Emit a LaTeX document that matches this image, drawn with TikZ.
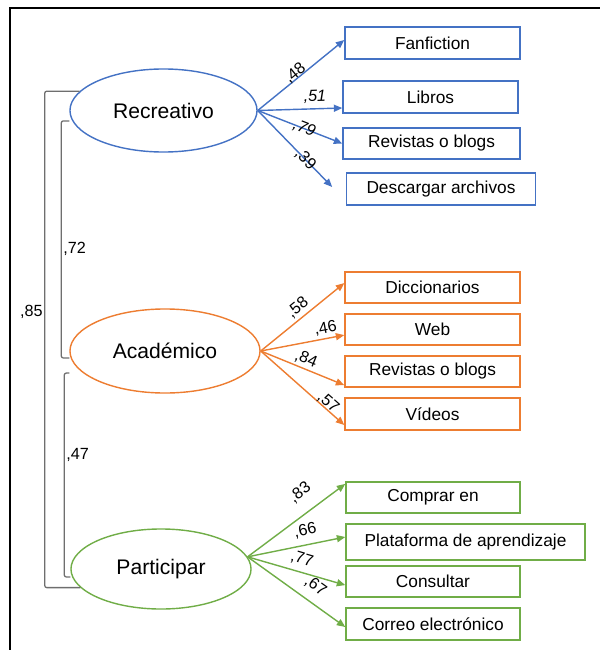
\documentclass[tikz,border=0pt]{standalone}
\usepackage{fontspec}
\setmainfont{Liberation Sans}
\usepackage{tikz}
\usetikzlibrary{arrows.meta,shapes.geometric}
\definecolor{factblue}{HTML}{4472C4}
\definecolor{factorange}{HTML}{ED7D31}
\definecolor{factgreen}{HTML}{70AD47}
\definecolor{bracegray}{HTML}{6E6E6E}

\tikzset{
  factor/.style={ellipse, draw, line width=1pt, inner sep=0pt, font=\fontsize{15}{18}\selectfont},
  item/.style={rectangle, draw, line width=1pt, inner sep=0pt, minimum height=0.8cm, font=\fontsize{12.3}{14}\selectfont},
  load/.style={->, line width=1pt},
  coef/.style={font=\fontsize{11.5}{13}\selectfont, inner sep=1pt, text=black},
  brace/.style={draw=bracegray, line width=0.9pt, rounded corners=1.5pt}
}

\begin{document}
\begin{tikzpicture}[x=0.025cm, y=-0.025cm, >={Triangle[length=6pt, width=5pt]}]
  \useasboundingbox (0,0) rectangle (600,650);
  % Frame
  \draw[line width=0.8pt] (10,650) -- (10,8) -- (600,8);

  % Factor Nodes
  \node[factor, draw=factblue, minimum width=4.675cm, minimum height=2.075cm] (rec) at (163.5,110.5) {Recreativo};
  \node[factor, draw=factorange, minimum width=4.75cm, minimum height=2.1cm] (aca) at (165,351) {Académico};
  \node[factor, draw=factgreen, minimum width=4.5cm, minimum height=2cm] (par) at (161,569) {Participar};

  % Item Nodes (Recreativo)
  \node[item, draw=factblue, minimum width=4.375cm] (fanf) at (432.5,43) {Fanfiction};
  \node[item, draw=factblue, minimum width=4.375cm] (libr) at (430.5,97) {Libros};
  \node[item, draw=factblue, minimum width=4.425cm, minimum height=0.775cm] (revr) at (431.5,143.5) {Revistas o blogs};
  \node[item, draw=factblue, minimum width=4.725cm] (desc) at (441,189) {Descargar archivos};

  % Item Nodes (Academico)
  \node[item, draw=factorange, minimum width=4.375cm, minimum height=0.775cm] (dicc) at (432.5,287.5) {Diccionarios};
  \node[item, draw=factorange, minimum width=4.375cm, minimum height=0.775cm] (web) at (432.5,329.5) {Web};
  \node[item, draw=factorange, minimum width=4.375cm, minimum height=0.775cm] (reva) at (432.5,371.5) {Revistas o blogs};
  \node[item, draw=factorange, minimum width=4.375cm] (vide) at (432.5,414) {Vídeos};

  % Item Nodes (Participar)
  \node[item, draw=factgreen, minimum width=4.35cm, minimum height=0.775cm] (comp) at (433,497.5) {Comprar en};
  \node[item, draw=factgreen, minimum width=5.975cm, minimum height=0.9cm] (plat) at (465.5,542) {Plataforma de aprendizaje};
  \node[item, draw=factgreen, minimum width=4.35cm, minimum height=0.775cm] (cons) at (433,581.5) {Consultar};
  \node[item, draw=factgreen, minimum width=4.35cm] (corr) at (433,624) {Correo electrónico};

  % Loadings (Recreativo)
  \draw[load, draw=factblue] (rec.east) -- node[coef, sloped, above=-2.5pt, pos=.47] {,48} ([yshift=0.075cm]fanf.west);
  \draw[load, draw=factblue] (rec.east) -- node[coef, sloped, above=2.5pt, pos=.68] {\itshape,51} ([yshift=-0.275cm]libr.west);
  \draw[load, draw=factblue] (rec.east) -- node[coef, sloped, pos=.55] {\itshape,79} (revr.west);
  \draw[load, draw=factblue] (rec.east) -- node[coef, sloped, pos=.64] {,39} ([xshift=-0.34cm, yshift=0.05cm]desc.west);

  % Loadings (Academico)
  \draw[load, draw=factorange] (aca.east) -- node[coef, sloped, above=1pt, pos=.52] {,58} ([yshift=0.11cm]dicc.west);
  \draw[load, draw=factorange] (aca.east) -- node[coef, sloped, above=1pt, pos=.8] {,46} ([yshift=-0.14cm]web.west);
  \draw[load, draw=factorange] (aca.east) -- node[coef, sloped, above=0.5pt, pos=.5] {,84} ([yshift=-0.34cm]reva.west);
  \draw[load, draw=factorange] (aca.east) -- node[coef, sloped, above=-2pt, pos=.76] {,57} ([yshift=-0.275cm]vide.west);

  % Loadings (Participar)
  \draw[load, draw=factgreen] (par.8) -- node[coef, sloped, above=8pt, pos=.66] {,83} ([yshift=0.34cm]comp.west);
  \draw[load, draw=factgreen] (par.8) -- node[coef, sloped, above=4pt, pos=.62] {,66} ([yshift=0.125cm]plat.west);
  \draw[load, draw=factgreen] (par.8) -- node[coef, sloped, above=3pt, pos=.52] {,77} ([yshift=-0.09cm]cons.west);
  \draw[load, draw=factgreen] (par.8) -- node[coef, sloped, above=5pt, pos=.6] {,67} ([yshift=-0.075cm]corr.west);

  % Correlations
  \draw[brace] (rec.167) -- ++(-35,0) |- node[coef, left, pos=.222] {,85} (par.193);
  \draw[brace] ([yshift=-0.26cm]rec.west) -- ++(-8,0) |- node[coef, right, pos=.27] {,72} ([yshift=-0.175cm]aca.west);
  \draw[brace] ([yshift=-0.55cm]aca.west) -- ++(-5,0) |- node[coef, right, pos=.2] {,47} ([yshift=-0.2cm]par.west);
\end{tikzpicture}
\end{document}
